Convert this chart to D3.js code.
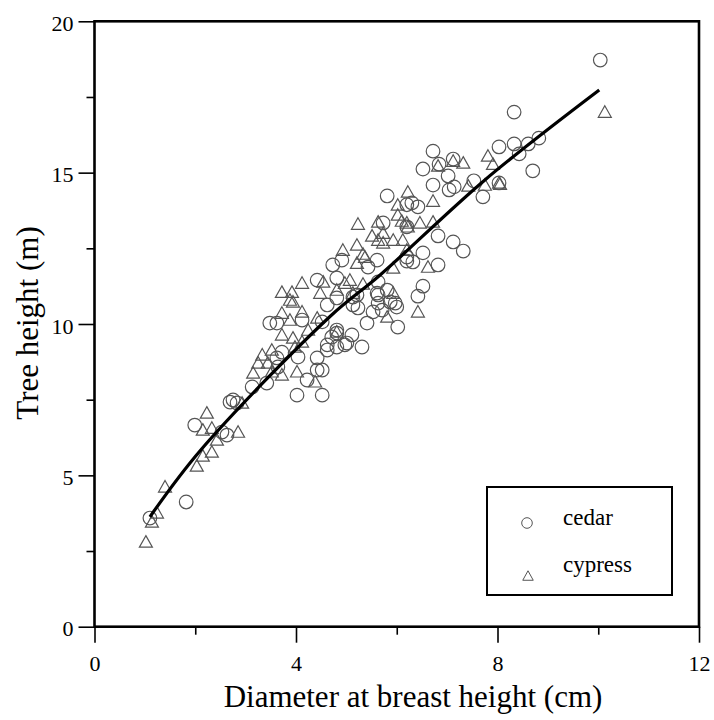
<!DOCTYPE html>
<html>
<head>
<meta charset="utf-8">
<script src="https://cdn.jsdelivr.net/npm/d3@7"></script>
<style>
  html, body { margin: 0; padding: 0; background: #fff; }
  svg { display: block; }
</style>
</head>
<body>
<svg id="chart" width="714" height="720"></svg>
<script>
// ---- data ----
const cedarDbh = [10.04,8.33,8.82,8.61,8.33,8.43,8.03,8.70,6.72,6.52,6.84,7.12,7.02,6.72,7.04,7.14,7.53,8.03,7.71,6.20,6.42,6.30,6.20,6.82,7.12,7.32,6.52,6.20,6.32,6.82,5.81,5.73,5.61,5.43,4.73,4.81,6.52,6.42,5.63,5.81,5.97,5.87,5.21,5.63,5.13,5.23,5.53,5.71,5.41,6.02,4.81,5.11,5.31,4.81,4.81,4.97,4.42,4.62,3.48,3.62,4.12,4.52,4.81,4.71,5.01,4.62,4.62,4.04,3.62,3.64,4.42,4.42,4.52,4.22,3.42,3.13,4.02,4.52,2.75,2.83,2.69,1.99,2.53,2.63,1.82,1.10,3.72,4.91,5.13,5.61,5.63,6.00,6.20];
const cedarHeight = [18.72,17.00,16.14,15.95,15.95,15.62,15.85,15.06,15.71,15.12,15.28,15.45,14.89,14.59,14.43,14.53,14.73,14.66,14.20,13.94,13.87,14.00,13.21,12.91,12.71,12.41,12.35,12.08,12.05,11.95,14.23,13.34,12.11,11.88,11.95,11.52,11.25,10.92,11.39,11.12,10.69,10.73,10.96,10.96,10.63,10.53,10.40,10.46,10.03,9.90,10.86,9.64,9.24,9.70,9.24,9.31,11.45,10.63,10.03,10.03,10.13,10.07,9.80,9.57,9.37,9.31,9.14,8.91,8.88,8.58,8.88,8.48,8.48,8.15,8.05,7.92,7.65,7.65,7.49,7.39,7.42,6.66,6.43,6.33,4.12,3.59,9.07,12.11,10.89,11.02,10.69,10.56,12.21];

const cypressDbh = [10.13,8.05,7.81,7.91,6.82,7.12,7.32,7.42,7.75,8.03,6.22,6.72,6.20,6.46,6.72,6.62,6.12,6.02,6.02,6.10,5.23,5.63,6.22,5.73,5.51,5.73,5.93,5.21,4.93,5.33,5.93,5.21,4.97,5.33,6.42,5.81,4.81,4.81,4.54,4.12,3.72,3.92,3.88,3.94,4.48,5.13,3.72,3.88,4.12,4.42,4.24,3.72,3.94,4.12,3.98,3.52,3.33,3.25,3.15,3.44,3.72,3.52,4.02,4.38,2.93,2.23,2.33,2.15,2.85,2.43,2.33,2.15,2.03,1.40,1.24,1.14,1.02,5.63,5.37,5.07,5.93,6.20];
const cypressHeight = [17.00,14.62,15.55,15.28,15.22,15.38,15.32,14.56,14.59,14.66,14.36,14.06,13.34,13.34,13.37,11.88,12.77,13.93,13.60,13.40,13.30,13.37,13.21,13.00,12.91,12.68,12.77,12.61,12.44,12.31,11.85,12.01,11.35,11.32,10.40,10.23,11.12,9.74,11.39,11.35,11.05,11.05,10.79,10.73,11.02,11.02,10.36,10.13,10.40,10.20,9.80,9.64,9.54,9.41,9.24,9.14,8.98,8.71,8.38,8.71,8.32,8.42,8.42,8.09,7.39,7.06,6.56,6.50,6.43,6.17,5.77,5.64,5.31,4.62,3.76,3.46,2.80,12.77,12.21,11.45,11.02,12.44];

// fitted curve, points
const fitDbh    = [1.10, 2.11, 4.67, 5.67, 7.75, 10.02];
const fitHeight = [3.63, 5.84, 10.24, 11.62, 14.76, 17.73];

const xMajor = [0, 4, 8, 12];
const xMinor = [2, 6, 10];
const yMajor = [0, 5, 10, 15, 20];
const yMinor = [2.5, 7.5, 12.5, 17.5];

const seriesNames = ["cedar", "cypress"];
const xTitle = "Diameter at breast height (cm)";
const yTitle = "Tree height (m)";

// ---- layout ----
const FONT = "'Liberation Serif', 'Times New Roman', Times, serif";
const L = 94.5, R = 699, T = 21.3, B = 626.7;
const svg = d3.select("#chart").attr("font-family", FONT);
const x = d3.scaleLinear().domain([0, 12]).range([L, R]);
const y = d3.scaleLinear().domain([0, 20]).range([B, T]);

// axes
const gx = svg.append("g").attr("transform", `translate(0,${B})`);
gx.call(d3.axisBottom(x).tickValues(xMajor).tickSize(16).tickPadding(13).tickFormat(d3.format("d")));
const gx2 = svg.append("g").attr("transform", `translate(0,${B})`);
gx2.call(d3.axisBottom(x).tickValues(xMinor).tickSize(8).tickFormat(""));
const gy = svg.append("g").attr("transform", `translate(${L},0)`);
gy.call(d3.axisLeft(y).tickValues(yMajor).tickSize(16).tickPadding(5).tickFormat(d3.format("d")));
const gy2 = svg.append("g").attr("transform", `translate(${L},0)`);
gy2.call(d3.axisLeft(y).tickValues(yMinor).tickSize(8).tickFormat(""));
[gx, gx2, gy, gy2].forEach(g => {
  g.attr("font-family", FONT).attr("font-size", 22);
  g.select(".domain").remove();
  g.selectAll("line").attr("stroke", "#000").attr("stroke-width", 1.6);
  g.selectAll("text").style("font-family", FONT).style("font-size", "22px").attr("fill", "#000");
});
gy.selectAll("text").attr("dy", "0.42em");

// points
const markStroke = "#555";
const cedar = cedarDbh.map((d, i) => ({x: d, y: cedarHeight[i]}));
const cypress = cypressDbh.map((d, i) => ({x: d, y: cypressHeight[i]}));

function triPath(w, h) {
  return `M0,${-h * 0.55}L${w / 2},${h * 0.45}L${-w / 2},${h * 0.45}Z`;
}

svg.append("g").selectAll("path").data(cypress).join("path")
  .attr("d", triPath(13, 11.5))
  .attr("transform", d => `translate(${x(d.x)},${y(d.y)})`)
  .attr("fill", "none").attr("stroke", markStroke).attr("stroke-width", 1.2);

svg.append("g").selectAll("circle").data(cedar).join("circle")
  .attr("cx", d => x(d.x)).attr("cy", d => y(d.y)).attr("r", 6.8)
  .attr("fill", "none").attr("stroke", markStroke).attr("stroke-width", 1.2);

// fitted line
const fit = fitDbh.map((d, i) => ({x: d, y: fitHeight[i]}));
svg.append("path").datum(fit)
  .attr("d", d3.line().x(d => x(d.x)).y(d => y(d.y)).curve(d3.curveCatmullRom))
  .attr("fill", "none").attr("stroke", "#000").attr("stroke-width", 3.2);

// frame
svg.append("rect").attr("x", L).attr("y", T).attr("width", R - L).attr("height", B - T)
  .attr("fill", "none").attr("stroke", "#000").attr("stroke-width", 2.6);

// legend
svg.append("rect").attr("x", 487).attr("y", 487).attr("width", 185).attr("height", 108)
  .attr("fill", "#fff").attr("stroke", "#000").attr("stroke-width", 2);
svg.append("circle").attr("cx", 527).attr("cy", 523).attr("r", 5.3)
  .attr("fill", "none").attr("stroke", markStroke).attr("stroke-width", 1);
svg.append("path").attr("d", triPath(10.5, 9.5)).attr("transform", "translate(528,576)")
  .attr("fill", "none").attr("stroke", markStroke).attr("stroke-width", 1);
svg.append("text").attr("x", 563).attr("y", 525).style("font-family", FONT).style("font-size", "23px").text(seriesNames[0]);
svg.append("text").attr("x", 563).attr("y", 572).style("font-family", FONT).style("font-size", "23px").text(seriesNames[1]);

// titles
svg.append("text").attr("x", 413).attr("y", 707).attr("text-anchor", "middle")
  .style("font-family", FONT).style("font-size", "31px").text(xTitle);
svg.append("text").attr("transform", "translate(38,323) rotate(-90)").attr("text-anchor", "middle")
  .style("font-family", FONT).style("font-size", "31px").text(yTitle);
</script>
</body>
</html>
